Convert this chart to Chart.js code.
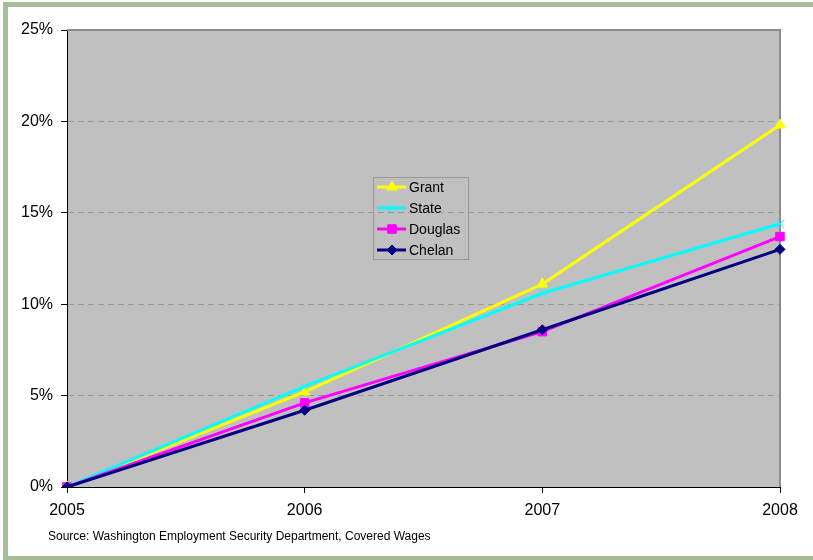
<!DOCTYPE html>
<html>
<head>
<meta charset="utf-8">
<script src="https://cdn.jsdelivr.net/npm/chart.js@4/dist/chart.umd.min.js"></script>
<style>
  html, body { margin: 0; padding: 0; background: #fff; }
  #wrap { width: 813px; height: 560px; position: relative; }
</style>
</head>
<body>
<div id="wrap"><canvas id="growth-chart" width="813" height="560"></canvas></div>
<script>
// years along the bottom
const years = ['2005', '2006', '2007', '2008'];

// cumulative wage growth, percent
const grant = [0, 5.2, 11.1, 19.8];
const state = [0, 5.5, 10.6, 14.4];
const douglas = [0, 4.6, 8.5, 13.7];
const chelan = [0, 4.2, 8.6, 13.0];

const yTicks = [0, 5, 10, 15, 20, 25];
const sourceNote = 'Source: Washington Employment Security Department, Covered Wages';

const FONT = '"Liberation Sans", Arial, sans-serif';

// green frame, grey plot box and source line
const framePlugin = {
    id: 'frame',
    beforeDraw(chart) {
        const ctx = chart.ctx;
        const a = chart.chartArea;
        ctx.save();
        ctx.fillStyle = '#fff';
        ctx.fillRect(0, 0, chart.width, chart.height);
        ctx.fillStyle = '#a6bd98';
        ctx.fillRect(3, 2, chart.width - 3, 5);
        ctx.fillRect(3, 2, 5, chart.height - 2);
        ctx.fillRect(3, 556, chart.width - 3, 4);
        ctx.fillStyle = '#c0c0c0';
        ctx.fillRect(a.left, a.top, a.right - a.left, a.bottom - a.top);
        ctx.fillStyle = '#000';
        ctx.font = '12px ' + FONT;
        ctx.textBaseline = 'middle';
        ctx.fillText(sourceNote, 48, 537);
        ctx.restore();
    },
    beforeDatasetsDraw(chart) {
        const ctx = chart.ctx;
        const a = chart.chartArea;
        ctx.save();
        ctx.strokeStyle = '#8c8c8c';
        ctx.lineWidth = 2;
        ctx.beginPath();
        ctx.moveTo(a.left, a.top);
        ctx.lineTo(a.right, a.top);
        ctx.lineTo(a.right, a.bottom);
        ctx.stroke();
        ctx.restore();
    }
};

// legend drawn like the spreadsheet one: line with marker
const legendPlugin = {
    id: 'boxLegend',
    afterDraw(chart) {
        const ctx = chart.ctx;
        const x0 = 373, y0 = 177, w = 95, h = 82;
        ctx.save();
        ctx.strokeStyle = '#999';
        ctx.lineWidth = 1;
        ctx.strokeRect(x0 + 0.5, y0 + 0.5, w, h);
        chart.data.datasets.forEach((ds, i) => {
            const y = 187 + i * 21;
            ctx.strokeStyle = ds.borderColor;
            ctx.lineWidth = 3;
            ctx.beginPath();
            ctx.moveTo(377, y);
            ctx.lineTo(406, y);
            ctx.stroke();
            ctx.fillStyle = ds.pointBackgroundColor;
            ctx.strokeStyle = ds.pointBorderColor;
            ctx.lineWidth = 1;
            Chart.helpers.drawPoint(ctx, {
                pointStyle: ds.pointStyle,
                radius: ds.pointRadius,
                borderWidth: 1,
                rotation: 0
            }, 392, y);
            ctx.fillStyle = '#000';
            ctx.font = '14px ' + FONT;
            ctx.textBaseline = 'middle';
            ctx.fillText(ds.label, 409, y + 1);
        });
        ctx.restore();
    }
};

function series(label, data, color, style, radius, order) {
    return {
        label,
        data,
        borderColor: color,
        backgroundColor: color,
        pointBackgroundColor: color,
        pointBorderColor: color,
        pointStyle: style,
        pointRadius: radius,
        pointHoverRadius: radius,
        pointBorderWidth: 1,
        borderWidth: 3,
        tension: 0,
        order
    };
}

new Chart(document.getElementById('growth-chart'), {
    type: 'line',
    data: {
        labels: years,
        datasets: [
            series('Grant', grant, '#ffff00', 'triangle', 6, 3),
            series('State', state, '#00ffff', 'crossRot', 6, 2),
            series('Douglas', douglas, '#ff00ff', 'rect', 6, 1),
            series('Chelan', chelan, '#000080', 'rectRot', 5, 0)
        ]
    },
    options: {
        responsive: false,
        animation: false,
        layout: { padding: { top: 30, right: 33, left: 0, bottom: 0 } },
        plugins: {
            legend: { display: false },
            tooltip: { enabled: false }
        },
        scales: {
            x: {
                offset: false,
                afterFit(scale) { scale.height = 73; },
                grid: {
                    drawOnChartArea: false,
                    drawTicks: true,
                    tickLength: 6,
                    tickColor: '#000'
                },
                border: { color: '#000', width: 1 },
                ticks: {
                    padding: 8,
                    color: '#000',
                    font: { family: FONT, size: 16 },
                    maxRotation: 0
                }
            },
            y: {
                min: yTicks[0],
                max: yTicks[yTicks.length - 1],
                afterFit(scale) { scale.width = 67; },
                afterBuildTicks(scale) {
                    scale.ticks = yTicks.map(v => ({ value: v }));
                },
                grid: {
                    color: ctx => (ctx.tick && (ctx.tick.value === 0 || ctx.tick.value === 25)) ? 'rgba(0,0,0,0)' : '#9a9a9a',
                    tickLength: 6,
                    tickColor: '#000',
                    tickBorderDash: []
                },
                border: { color: '#000', width: 1, dash: [6, 4] },
                ticks: {
                    padding: 8,
                    color: '#000',
                    font: { family: FONT, size: 16 },
                    callback: v => v + '%'
                }
            }
        }
    },
    plugins: [framePlugin, legendPlugin]
});
</script>
</body>
</html>
